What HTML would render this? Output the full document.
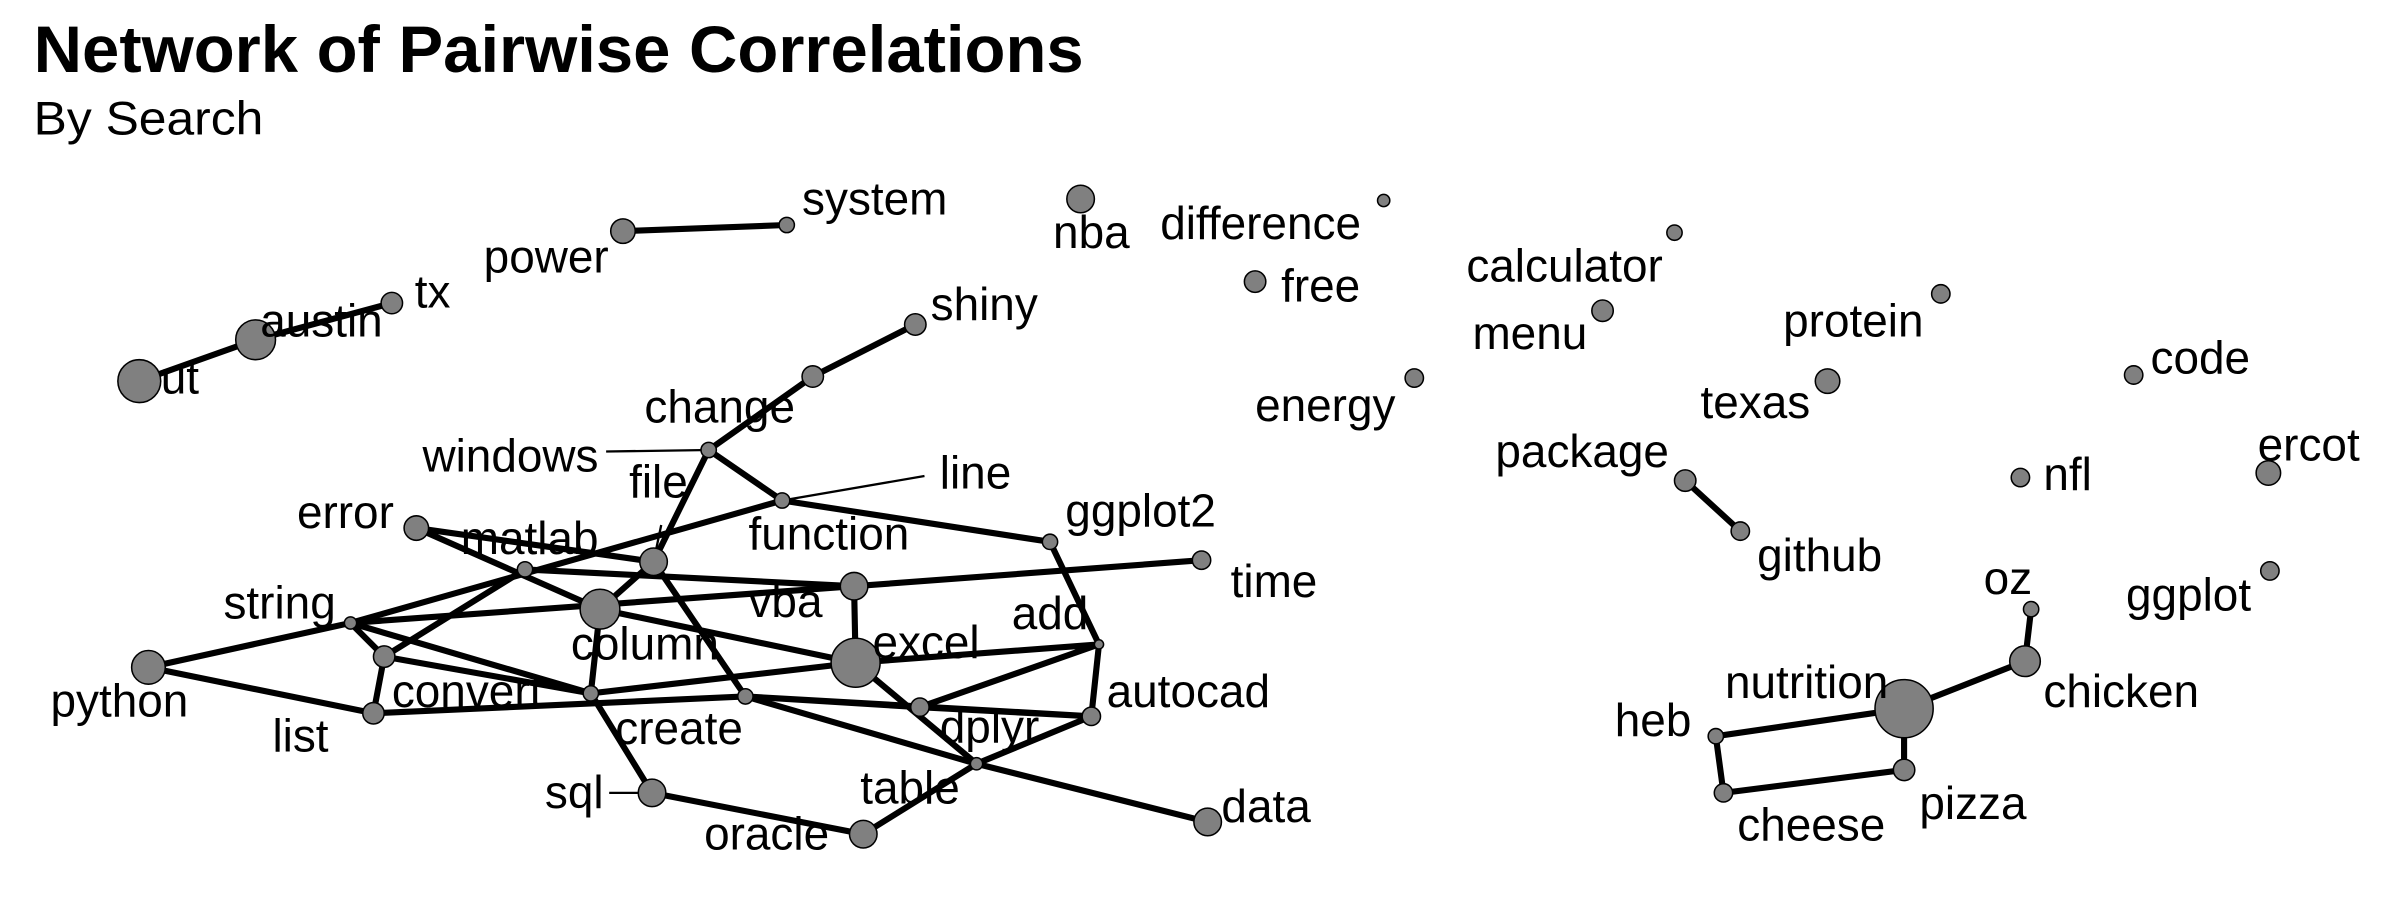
<!DOCTYPE html>
<html><head><meta charset="utf-8"><style>
html,body{margin:0;padding:0;background:#fff;}
svg{display:block}
text{font-family:"Liberation Sans",sans-serif;fill:#000}
</style></head><body>
<svg width="2400" height="900" viewBox="0 0 1568 588" preserveAspectRatio="none">
<rect width="1568" height="588" fill="#fff"/>
<text x="22" y="47" font-size="43" font-weight="bold" textLength="686" lengthAdjust="spacingAndGlyphs">Network of Pairwise Correlations</text>
<text x="22" y="88" font-size="31" textLength="150" lengthAdjust="spacingAndGlyphs">By Search</text>
<g stroke="#000" stroke-width="4" fill="none" stroke-linecap="round">
<path d="M91 249L167 222L256 198"/>
<path d="M407 151L514 147"/>
<path d="M598 212L531 246L463 294"/>
<path d="M463 294L427 367M463 294L511 327L686 354"/>
<path d="M511 327L229 407L97 436L244 466"/>
<path d="M272 345L427 367M272 345L392 398"/>
<path d="M343 372L558 383L785 366M343 372L251 429"/>
<path d="M427 367L392 398M427 367L487 455L638 499L789 537"/>
<path d="M229 407L558 383M392 398L559 433M558 383L559 433"/>
<path d="M229 407L251 429L244 466L487 455L601 462L713 468M487 455L713 468"/>
<path d="M229 407L386 453M251 429L386 453M386 453L559 433M386 453L392 398M386 453L426 518L564 545L638 499L713 468"/>
<path d="M559 433L638 499M559 433L718 421L601 462M718 421L713 468M718 421L686 354"/>
<path d="M1101 314L1137 347"/>
<path d="M1327 398L1323 432L1244 463L1121 481L1126 518L1244 503L1244 463"/>
</g>
<g stroke="#000" stroke-width="1.5">
<path d="M396 295L463 294M511 327L604 311M398 518L426 518M427 367L432 343"/>
</g>
<g fill="#808080" stroke="#000" stroke-width="1">
<circle cx="91" cy="249" r="14"/><circle cx="167" cy="222" r="13"/><circle cx="256" cy="198" r="7"/>
<circle cx="407" cy="151" r="8"/><circle cx="514" cy="147" r="5"/><circle cx="706" cy="130" r="9"/>
<circle cx="904" cy="131" r="4"/><circle cx="820" cy="184" r="7"/><circle cx="1094" cy="152" r="5"/>
<circle cx="1047" cy="203" r="7"/><circle cx="1268" cy="192" r="6"/><circle cx="924" cy="247" r="6"/>
<circle cx="1194" cy="249" r="8"/><circle cx="1394" cy="245" r="6"/><circle cx="1101" cy="314" r="7"/>
<circle cx="1137" cy="347" r="6"/><circle cx="1320" cy="312" r="6"/><circle cx="1482" cy="309" r="8"/>
<circle cx="1483" cy="373" r="6"/><circle cx="1327" cy="398" r="5"/><circle cx="1323" cy="432" r="10"/>
<circle cx="1244" cy="463" r="19"/><circle cx="1121" cy="481" r="5"/><circle cx="1126" cy="518" r="6"/>
<circle cx="1244" cy="503" r="7"/>
<circle cx="598" cy="212" r="7"/><circle cx="531" cy="246" r="7"/><circle cx="463" cy="294" r="5"/>
<circle cx="511" cy="327" r="5"/><circle cx="686" cy="354" r="5"/><circle cx="427" cy="367" r="9"/>
<circle cx="272" cy="345" r="8"/><circle cx="343" cy="372" r="5"/><circle cx="558" cy="383" r="9"/>
<circle cx="785" cy="366" r="6"/><circle cx="229" cy="407" r="4"/><circle cx="392" cy="398" r="13"/>
<circle cx="97" cy="436" r="11"/><circle cx="718" cy="421" r="3"/><circle cx="559" cy="433" r="16"/>
<circle cx="251" cy="429" r="7"/><circle cx="386" cy="453" r="5"/><circle cx="487" cy="455" r="5"/>
<circle cx="601" cy="462" r="6"/><circle cx="713" cy="468" r="6"/><circle cx="244" cy="466" r="7"/>
<circle cx="638" cy="499" r="4"/><circle cx="426" cy="518" r="9"/><circle cx="564" cy="545" r="9"/>
<circle cx="789" cy="537" r="9"/>
</g>
<g font-size="30">
<text x="524" y="140">system</text><text x="316" y="178">power</text><text x="271" y="201">tx</text>
<text x="170" y="220">austin</text><text x="105" y="257">ut</text><text x="688" y="162">nba</text>
<text x="758" y="156">difference</text><text x="837" y="197">free</text><text x="958" y="184">calculator</text>
<text x="962" y="228">menu</text><text x="1165" y="220">protein</text><text x="820" y="275">energy</text>
<text x="1111" y="273">texas</text><text x="1405" y="244">code</text><text x="977" y="305">package</text>
<text x="1148" y="373">github</text><text x="1335" y="320">nfl</text><text x="1475" y="301">ercot</text>
<text x="1389" y="399">ggplot</text><text x="1296" y="388">oz</text><text x="1335" y="462">chicken</text>
<text x="1127" y="456">nutrition</text><text x="1055" y="481">heb</text><text x="1135" y="549">cheese</text>
<text x="1254" y="535">pizza</text><text x="608" y="209">shiny</text><text x="421" y="276">change</text>
<text x="276" y="308">windows</text><text x="614" y="319">line</text><text x="411" y="325">file</text>
<text x="489" y="359">function</text><text x="696" y="344">ggplot2</text><text x="194" y="345">error</text>
<text x="301" y="362">matlab</text><text x="804" y="390">time</text><text x="146" y="404">string</text>
<text x="489" y="403">vba</text><text x="661" y="411">add</text><text x="373" y="431">column</text>
<text x="570" y="430">excel</text><text x="33" y="468">python</text><text x="256" y="462">convert</text>
<text x="723" y="462">autocad</text><text x="178" y="491">list</text><text x="402" y="486">create</text>
<text x="614" y="485">dplyr</text><text x="562" y="525">table</text><text x="356" y="528">sql</text>
<text x="460" y="555">oracle</text><text x="798" y="537">data</text>
</g>
</svg>
</body></html>
